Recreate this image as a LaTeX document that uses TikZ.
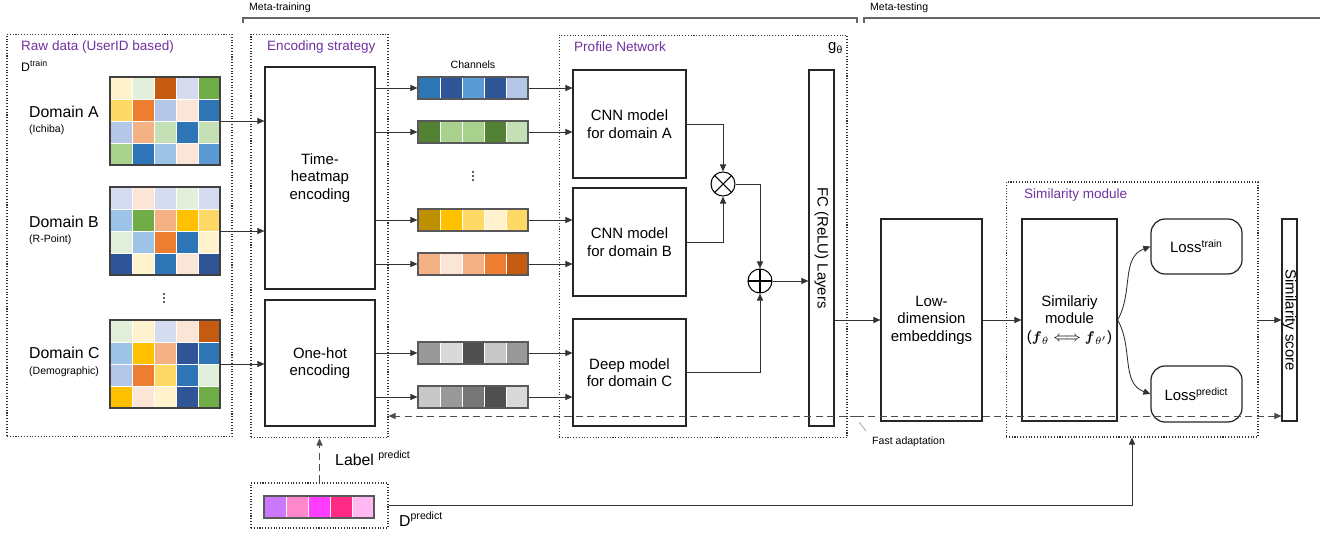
\documentclass[tikz,border=0pt]{standalone}
\usepackage{fontspec}
\setmainfont{Liberation Sans}
\usepackage{amsmath}
\usetikzlibrary{arrows.meta,positioning}
\definecolor{cYlw}{HTML}{FFF2CC}
\definecolor{cLGrn}{HTML}{E2EFDA}
\definecolor{cDOrg}{HTML}{C55A11}
\definecolor{cLBg}{HTML}{D6DCF0}
\definecolor{cGrn}{HTML}{70AD47}
\definecolor{cGold}{HTML}{FFD966}
\definecolor{cOrg}{HTML}{ED7D31}
\definecolor{cLBlu}{HTML}{B4C7E7}
\definecolor{cPch}{HTML}{FBE5D6}
\definecolor{cBlu}{HTML}{2E75B6}
\definecolor{cSal}{HTML}{F4B183}
\definecolor{cLGrnB}{HTML}{C5E0B4}
\definecolor{cMGrn}{HTML}{A9D18E}
\definecolor{cSky}{HTML}{9DC3E6}
\definecolor{cMBlu}{HTML}{5B9BD5}
\definecolor{cDBlu}{HTML}{2F5597}
\definecolor{cAmb}{HTML}{FFC000}
\definecolor{cDGrn}{HTML}{548235}
\definecolor{cDGld}{HTML}{BF9000}
\definecolor{gA}{HTML}{999999}
\definecolor{gB}{HTML}{D9D9D9}
\definecolor{gC}{HTML}{505050}
\definecolor{gD}{HTML}{C8C8C8}
\definecolor{gE}{HTML}{777777}
\definecolor{pV}{HTML}{CC77FF}
\definecolor{pP}{HTML}{FF88CC}
\definecolor{pM}{HTML}{FF3CFF}
\definecolor{pH}{HTML}{FF2A85}
\definecolor{pL}{HTML}{FFB8F0}
\definecolor{titlepurple}{HTML}{7030A0}

\begin{document}
\begin{tikzpicture}[x=0.02cm,y=-0.02cm]
  \tikzset{>={Triangle[length=4pt,width=3.5pt]},
    every node/.style={font=\fontsize{8.5}{10}\selectfont},
    frame/.style={draw=black!80,densely dotted,line width=0.6pt,inner sep=0pt},
    block/.style={draw=black!85,line width=0.7pt,align=center,inner sep=0pt},
    grid frame/.style={draw=black!75,line width=0.7pt,inner sep=0pt},
    title/.style={anchor=west,text=titlepurple,font=\fontsize{7.7}{9}\selectfont},
    small/.style={anchor=west,font=\fontsize{6}{7}\selectfont},
    domainlbl/.style={anchor=west,font=\fontsize{9}{10}\selectfont},
    link/.style={draw=black!80,line width=0.5pt,->},
    dash line/.style={draw=black!70,line width=0.5pt,dash pattern=on 4pt off 2.5pt,->},
    op/.style={draw,circle,minimum size=0.48cm,inner sep=0pt,line width=0.6pt}
  }
  % 5x4 heat map: name, left, top, rows
  \newcommand\HeatGrid[4]{
    \foreach \row [count=\j from 0] in {#4}
      \foreach \col [count=\i from 0] in \row
        \fill[fill=\col,draw=white,line width=0.4pt] ({#2+\i*22},{#3+\j*22}) rectangle ++(22,22);
    \node[grid frame,minimum width=2.2cm,minimum height=1.76cm] (#1) at ({#2+55},{#3+44}) {};
  }
  % one channel strip: name, left, top, colours
  \newcommand\ChannelStrip[4]{
    \foreach \col [count=\i from 0] in {#4}
      \fill[fill=\col,draw=white,line width=0.4pt] ({#2+\i*22},#3) rectangle ++(22,22);
    \node[grid frame,draw=black!65,minimum width=2.2cm,minimum height=0.44cm] (#1) at ({#2+55},{#3+11}) {};
  }
  % three small dots
  \newcommand\VDots[2]{
    \foreach \k in {-4,0,4}
      \fill[black!85] (#1,{#2+\k}) circle (1.1);
  }
  \useasboundingbox (0,0) rectangle (1332,533);

  % meta brackets
  \node[small] (metatr) at (243,8) {Meta-training};
  \node[small] (metate) at (864,8) {Meta-testing};
  \draw[black!60,line width=0.9pt] (243,23) -- (243,18) -- (857,18) -- (857,23);
  \draw[black!60,line width=0.9pt] (864,23) -- (864,18) -- (1320,18);

  % raw data
  \node[frame,minimum width=4.5cm,minimum height=8.06cm] (raw) at (119.5,235.5) {};
  \node[title] (rawttl) at (15,47) {Raw data (UserID based)};
  \node[anchor=west,font=\fontsize{7}{8}\selectfont] (dtrain) at (15,66) {D\textsuperscript{train}};
  \HeatGrid{gridA}{110}{77}{{cYlw,cLGrn,cDOrg,cLBg,cGrn},{cGold,cOrg,cLBlu,cPch,cBlu},{cLBlu,cSal,cLGrnB,cBlu,cLGrnB},{cMGrn,cBlu,cSky,cPch,cMBlu}}
  \HeatGrid{gridB}{110}{187}{{cLBg,cPch,cLBg,cLGrn,cLBg},{cSky,cGrn,cSal,cAmb,cGold},{cLGrn,cSky,cOrg,cBlu,cYlw},{cDBlu,cYlw,cBlu,cPch,cDBlu}}
  \HeatGrid{gridC}{110}{320}{{cLGrn,cYlw,cLBg,cPch,cDOrg},{cSky,cAmb,cSal,cDBlu,cBlu},{cLBlu,cOrg,cGold,cBlu,cLGrn},{cAmb,cPch,cYlw,cDBlu,cGrn}}
  \node[domainlbl] (domA) at (23,112) {Domain A};
  \node[small] (subA) at (23,130) {(Ichiba)};
  \node[domainlbl] (domB) at (23,222) {Domain B};
  \node[small] (subB) at (23,240) {(R-Point)};
  \node[domainlbl] (domC) at (23,353) {Domain C};
  \node[small] (subC) at (23,372) {(Demographic)};
  \VDots{164}{298}

  % encoding strategy
  \node[frame,minimum width=2.74cm,minimum height=8.08cm] (enc) at (319.5,236) {};
  \node[title] (encttl) at (261,47) {Encoding strategy};
  \node[block,minimum width=2.2cm,minimum height=4.44cm] (heat) at (320,178) {Time-\\heatmap\\encoding};
  \node[block,minimum width=2.2cm,minimum height=2.52cm] (onehot) at (320,363) {One-hot\\encoding};
  \draw[link] (gridA.east) -- (gridA.east -| heat.west);
  \draw[link] (gridB.east) -- (gridB.east -| heat.west);
  \draw[link] (gridC.east) -- (gridC.east -| onehot.west);

  % channels
  \node[font=\fontsize{6}{7}\selectfont] (chttl) at (473,65) {Channels};
  \ChannelStrip{chA}{418}{77}{cBlu,cDBlu,cMBlu,cDBlu,cLBlu}
  \ChannelStrip{chAA}{418}{121}{cDGrn,cMGrn,cMGrn,cDGrn,cLGrnB}
  \ChannelStrip{chB}{418}{209}{cDGld,cAmb,cGold,cYlw,cGold}
  \ChannelStrip{chBB}{418}{253}{cSal,cPch,cSal,cOrg,cDOrg}
  \ChannelStrip{chC}{418}{342}{gA,gB,gC,gD,gA}
  \ChannelStrip{chCC}{418}{386}{gD,gA,gE,gC,gB}
  \VDots{473}{176}
  \foreach \s in {chA,chAA,chB,chBB}
    \draw[link] (heat.east |- \s.west) -- (\s.west);
  \foreach \s in {chC,chCC}
    \draw[link] (onehot.east |- \s.west) -- (\s.west);

  % profile network
  \node[frame,minimum width=5.76cm,minimum height=8.06cm] (prof) at (703,236.5) {};
  \node[title] (profttl) at (568,47) {Profile Network};
  \node[anchor=west,font=\fontsize{8.5}{10}\selectfont] (gth) at (822,48) {g\textsubscript{θ}};
  \node[block,minimum width=2.26cm,minimum height=2.16cm] (cnnA) at (629.5,124) {CNN model\\for domain A};
  \node[block,minimum width=2.26cm,minimum height=2.16cm] (cnnB) at (629.5,242) {CNN model\\for domain B};
  \node[block,minimum width=2.26cm,minimum height=2.14cm] (deepC) at (629.5,372.5) {Deep model\\for domain C};
  \foreach \s/\t in {chA/cnnA,chAA/cnnA,chB/cnnB,chBB/cnnB,chC/deepC,chCC/deepC}
    \draw[link] (\s.east) -- (\s.east -| \t.west);
  \node[op,path picture={\draw[line width=0.6pt] (path picture bounding box.north west) -- (path picture bounding box.south east)
      (path picture bounding box.north east) -- (path picture bounding box.south west);}] (otimes) at (723,184) {};
  \node[op,path picture={\draw[line width=0.6pt] (path picture bounding box.north) -- (path picture bounding box.south)
      (path picture bounding box.west) -- (path picture bounding box.east);}] (oplus) at (760,281) {};
  \node[block,minimum width=0.5cm,minimum height=7.12cm] (fc) at (821.5,248) {};
  \node[rotate=-90] (fctxt) at (fc.center) {FC (ReLU) Layers};
  \draw[link] (cnnA.east) -| (otimes.north);
  \draw[link] (cnnB.east) -| (otimes.south);
  \draw[link] (otimes.east) -| (oplus.north);
  \draw[link] (deepC.east) -| (oplus.south);
  \draw[link] (oplus.east) -- (oplus.east -| fc.west);

  % meta-testing side
  \node[block,minimum width=2.02cm,minimum height=4.04cm] (lowdim) at (931.5,320) {Low-\\dimension\\embeddings};
  \node[frame,minimum width=5.04cm,minimum height=5.1cm] (sim) at (1132,309.5) {};
  \node[title] (simttl) at (1018,195) {Similarity module};
  \node[block,minimum width=1.9cm,minimum height=4.04cm] (simmod) at (1069.5,320) {Similariy\\module\\($\boldsymbol{f}_{\theta}\Longleftrightarrow \boldsymbol{f}_{\theta'}$)};
  \node[block,rounded corners=8pt,minimum width=1.82cm,minimum height=1.1cm] (losstr) at (1196.5,246.5) {Loss\textsuperscript{train}};
  \node[block,rounded corners=8pt,minimum width=1.82cm,minimum height=1.12cm] (losspr) at (1196.5,394) {Loss\textsuperscript{predict}};
  \node[block,minimum width=0.3cm,minimum height=4.04cm] (score) at (1289.5,320) {};
  \node[rotate=-90] (scoretxt) at (score.center) {Similarity score};
  \draw[link] (fc.east |- lowdim.west) -- (lowdim.west);
  \draw[link] (lowdim.east) -- (simmod.west);
  \draw[link] (simmod.east) to[out=60,in=200] (losstr.west);
  \draw[link] (simmod.east) to[out=-60,in=160] (losspr.west);
  \draw[link] (sim.east |- score.west) -- (score.west);

  % fast adaptation
  \coordinate (fastpt) at (857,416);
  \draw[dash line] (fastpt) -- (fastpt -| enc.east);
  \draw[dash line] (fastpt) -- (fastpt -| score.west);
  \node[small,anchor=north west] (fastlbl) at (866,431) {Fast adaptation};
  \draw[black!40,line width=0.4pt] (fastpt) ++(2,6) -- (fastlbl.north west);

  % predict data
  \node[frame,minimum width=2.74cm,minimum height=0.9cm] (pred) at (319.5,505.5) {};
  \ChannelStrip{predbar}{264}{496}{pV,pP,pM,pH,pL}
  \draw[dash line] (pred.north) -- (enc.south);
  \node[anchor=west,font=\fontsize{9}{10}\selectfont] (lblpred) at (329,458) {Label \textsuperscript{predict}};
  \draw[link] (pred.east) -| (sim.south);
  \node[anchor=west,font=\fontsize{9}{10}\selectfont] (dpred) at (393,519) {D\textsuperscript{predict}};
\end{tikzpicture}
\end{document}
